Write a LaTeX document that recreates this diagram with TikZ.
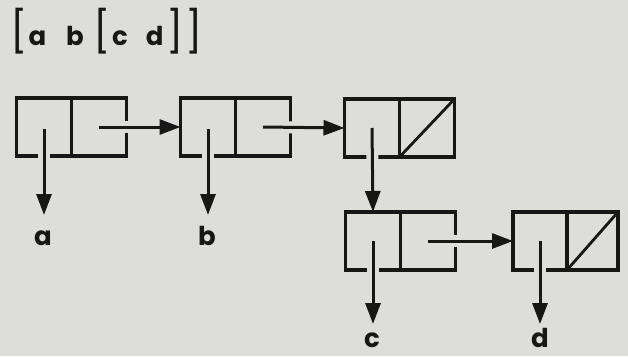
\documentclass[tikz,border=0pt]{standalone}
\usepackage{fontspec}
\setmainfont{Poppins}
\usetikzlibrary{arrows.meta,positioning}
\definecolor{paper}{rgb}{0.866,0.866,0.855}
\definecolor{ink}{rgb}{0.09,0.09,0.09}
\newcommand{\brk}[1]{{\fontsize{41}{41}\selectfont\mdseries\raisebox{-1pt}{#1}}}

\begin{document}
\begin{tikzpicture}[
  x=1pt,y=-1pt,
  every node/.style={font=\bfseries\fontsize{26}{26}\selectfont, text=ink},
  cell/.style={draw=ink, line width=3.2pt, minimum width=55pt, minimum height=58pt, inner sep=0pt, outer sep=0pt},
  lbl/.style={anchor=base, inner sep=0pt, text height=15pt, text depth=0pt, outer ysep=15pt},
  ptr/.style={-{Triangle[length=21pt,width=15pt]}, line width=3pt, draw=ink,
    preaction={draw=paper, line width=12pt, shorten >=30pt, -}},
  nil/.style={draw=ink, line width=2.8pt}
]
\fill[paper] (0,0) rectangle (628,356);

% the expression
\node[anchor=base west, inner sep=0pt] (expr) at (10,45)
  {\brk{[}\hspace{1pt}a\hspace{20pt}b\hspace{10pt}\brk{[}\hspace{1pt}c\hspace{18pt}d\hspace{3pt}\brk{]}\hspace{2pt}\brk{]}};

% cons cells
\node[cell] (car1) at (44,127) {};
\node[cell, right=0pt of car1] (cdr1) {};
\node[cell] (car2) at (208,127) {};
\node[cell, right=0pt of car2] (cdr2) {};
\node[cell] (car3) at (372,128) {};
\node[cell, right=0pt of car3] (cdr3) {};
\node[cell] (car4) at (373,241) {};
\node[cell, right=0pt of car4] (cdr4) {};
\node[cell, minimum width=54pt] (car5) at (540,241) {};
\node[cell, minimum width=51pt, right=0pt of car5] (cdr5) {};

\draw[nil] (cdr3.south west) -- (cdr3.north east);
\draw[nil] (cdr5.south west) -- (cdr5.north east);

% atoms
\node[lbl] (atomA) at (43,245) {a};
\node[lbl] (atomB) at (207,245) {b};
\node[lbl, outer ysep=8pt] (atomC) at (372,347) {c};
\node[lbl, outer ysep=8pt] (atomD) at (540,347) {d};

% pointers
\draw[ptr] (cdr1.center) -- (car2.west);
\draw[ptr] (cdr2.center) -- (car3.west);
\draw[ptr] (cdr4.center) -- (car5.west);
\draw[ptr] ([yshift=-2pt]car1.center) -- (car1.center |- atomA.north);
\draw[ptr] ([yshift=-2pt]car2.center) -- (car2.center |- atomB.north);
\draw[ptr] (car3.center) -- (car4.north);
\draw[ptr] (car4.center) -- (car4.center |- atomC.north);
\draw[ptr] (car5.center) -- (car5.center |- atomD.north);
\end{tikzpicture}
\end{document}
